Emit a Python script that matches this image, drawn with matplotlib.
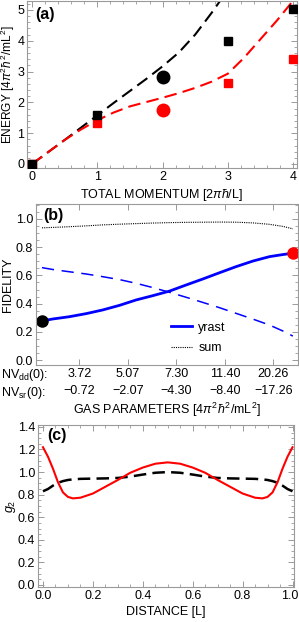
import matplotlib
matplotlib.use("Agg")
import matplotlib.pyplot as plt
from matplotlib.ticker import MultipleLocator, FixedLocator
from matplotlib.lines import Line2D
from matplotlib.transforms import ScaledTranslation

plt.rcParams["font.family"] = ["Liberation Sans", "DejaVu Sans"]
plt.rcParams["mathtext.fontset"] = "custom"
plt.rcParams["mathtext.rm"] = "Liberation Sans"
plt.rcParams["mathtext.it"] = "Liberation Sans:italic"
plt.rcParams["mathtext.bf"] = "Liberation Sans:bold"
plt.rcParams["font.size"] = 9

# ---- panel (a): energy vs total momentum ----
black_sq_x = [0, 1, 3, 4]
black_sq_e = [0.0, 1.6, 4.0, 5.02]
red_sq_x = [0, 1, 3, 4]
red_sq_e = [0.0, 1.32, 2.62, 3.4]
black_circ = (2, 2.82)
red_circ = (2, 1.76)

black_curve_x = [0, 0.25, 0.5, 0.75, 1.0, 1.25, 1.5, 1.75, 2.0, 2.25, 2.5, 2.75, 3.0]
black_curve_e = [0, 0.39, 0.78, 1.18, 1.58, 1.98, 2.37, 2.76, 3.17, 3.62, 4.2, 4.9, 5.65]
red_curve_x = [0, 0.25, 0.5, 0.75, 1.0, 1.25, 1.5, 1.75, 2.0, 2.25, 2.5, 2.75, 3.0,
               3.25, 3.5, 3.75, 4.0]
red_curve_e = [0, 0.39, 0.78, 1.12, 1.42, 1.67, 1.87, 2.01, 2.15, 2.3, 2.47, 2.67,
               2.93, 3.45, 4.05, 4.65, 5.3]

# ---- panel (b): fidelity vs gas parameters ----
gas_u = [0.23, 0.45, 0.79, 1.14, 1.48, 1.83, 2.17, 2.51, 2.86, 3.2, 3.54, 3.89,
         4.23, 4.58, 4.92, 5.2, 5.40]
fid_yrast = [0.277, 0.291, 0.307, 0.329, 0.355, 0.388, 0.426, 0.456, 0.489, 0.532,
             0.574, 0.619, 0.662, 0.702, 0.733, 0.748, 0.757]
fid_other = [0.655, 0.642, 0.626, 0.61, 0.591, 0.57, 0.544, 0.514, 0.48, 0.445,
             0.409, 0.371, 0.331, 0.29, 0.248, 0.205, 0.17]
fid_sum = [0.937, 0.94, 0.945, 0.951, 0.958, 0.963, 0.967, 0.971, 0.974, 0.976,
           0.977, 0.978, 0.977, 0.972, 0.962, 0.947, 0.930]
nv_dd = ["3.72", "5.07", "7.30", "11.40", "20.26"]
nv_sr = ["\u22120.72", "\u22122.07", "\u22124.30", "\u22128.40", "\u221217.26"]

# ---- panel (c): g2 vs distance ----
dist = [0.0, 0.02, 0.04, 0.06, 0.08, 0.10, 0.12, 0.15, 0.2, 0.25, 0.3, 0.35, 0.4,
        0.45, 0.5, 0.55, 0.6, 0.65, 0.7, 0.75, 0.8, 0.85, 0.88, 0.9, 0.92, 0.94,
        0.96, 0.98, 1.0]
g2_red = [1.22, 1.136, 1.03, 0.91, 0.82, 0.78, 0.767, 0.773, 0.81, 0.87, 0.93, 0.994,
          1.04, 1.074, 1.086, 1.074, 1.04, 0.994, 0.93, 0.87, 0.81, 0.773, 0.767,
          0.78, 0.82, 0.91, 1.03, 1.136, 1.22]
g2_black = [0.83, 0.85, 0.88, 0.905, 0.92, 0.93, 0.935, 0.94, 0.942, 0.944, 0.948,
            0.96, 0.978, 0.994, 1.0, 0.994, 0.978, 0.96, 0.948, 0.944, 0.942, 0.94,
            0.935, 0.93, 0.92, 0.905, 0.88, 0.85, 0.83]

FRAME = "#9a9a9a"


def style_axes(ax):
    for s in ax.spines.values():
        s.set_color(FRAME)
        s.set_linewidth(0.8)
    ax.tick_params(which="both", direction="in", top=True, right=True,
                   color=FRAME, labelsize=9, pad=2)
    ax.tick_params(which="major", length=4, width=0.7)
    ax.tick_params(which="minor", length=2, width=0.6)


fig = plt.figure(figsize=(2.99, 6.22), dpi=100)

# (a)
ax = fig.add_axes([27 / 299, 1 - 168 / 622, 270 / 299, 167 / 622])
style_axes(ax)
ax.plot(black_curve_x, black_curve_e, color="black", lw=1.5, dashes=(6, 3), zorder=2)
ax.plot(red_curve_x, red_curve_e, color="red", lw=1.5, dashes=(6, 3), zorder=2)
ax.plot(red_sq_x, red_sq_e, "s", color="red", ms=5.5, zorder=3)
ax.plot(black_sq_x, black_sq_e, "s", color="black", ms=5.5, zorder=4)
ax.plot(*black_circ, "o", color="black", ms=9, zorder=4)
ax.plot(*red_circ, "o", color="red", ms=9, zorder=4)
ax.set_xlim(-0.077, 4.06)
ax.set_ylim(-0.13, 5.29)
ax.xaxis.set_major_locator(MultipleLocator(1))
ax.xaxis.set_minor_locator(MultipleLocator(0.2))
ax.yaxis.set_major_locator(MultipleLocator(1))
ax.yaxis.set_minor_locator(MultipleLocator(0.2))
ax.set_xlabel("TOTAL MOMENTUM [2$\\pi\\hbar$/L]", labelpad=3)
ax.set_ylabel("ENERGY [4$\\pi^2\\hbar^2$/mL$^2$]", fontsize=8.6, va="center")
ax.yaxis.set_label_coords(-0.07, 0.5)
ax.text(0.03, 0.917, "(a)", transform=ax.transAxes, fontsize=11.5,
        fontweight="bold", va="center", ha="left")

# (b)
ax = fig.add_axes([36 / 299, 1 - 365 / 622, 262 / 299, 161 / 622])
style_axes(ax)
ax.plot(gas_u, fid_other, color="blue", lw=1.1, dashes=(8, 5))
ax.plot(gas_u, fid_sum, color="black", lw=0.8, ls=(0, (1, 1)))
ax.plot(gas_u, fid_yrast, color="blue", lw=2)
ax.plot(gas_u[0], fid_yrast[0], "o", color="black", ms=8)
ax.plot(gas_u[-1], fid_yrast[-1], "o", color="red", ms=8)
ax.set_xlim(0.107, 5.506)
ax.set_ylim(-0.035, 1.106)
ax.xaxis.set_major_locator(FixedLocator([1, 2, 3, 4, 5]))
ax.set_xticklabels([f"{d}\n{s}" for d, s in zip(nv_dd, nv_sr)], linespacing=1.55)
ax.yaxis.set_major_locator(MultipleLocator(0.2))
ax.yaxis.set_minor_locator(MultipleLocator(0.05))
ax.yaxis.set_major_formatter(plt.FormatStrFormatter("%.1f"))
ax.set_xlabel("GAS PARAMETERS [4$\\pi^2\\hbar^2$/mL$^2$]", labelpad=3)
ax.set_ylabel("FIDELITY", va="center")
ax.yaxis.set_label_coords(-(36 - 8) / 262, 0.5)
ax.text(0.027, 0.93, "(b)", transform=ax.transAxes, fontsize=11.5,
        fontweight="bold", va="center", ha="left")
handles = [Line2D([], [], color="blue", lw=2),
           Line2D([], [], color="black", lw=0.8, ls=(0, (1, 1)))]
ax.legend(handles, ["yrast", "sum"], loc="upper left", bbox_to_anchor=(0.515, 0.27),
          frameon=False, borderpad=0, borderaxespad=0, handlelength=1.7,
          handletextpad=0.5, labelspacing=0.7, fontsize=9)
fig.text(1 / 299, 1 - 375 / 622, "NV$_{\\rm dd}$(0):", va="center", ha="left", fontsize=9)
fig.text(1 / 299, 1 - 393 / 622, "NV$_{\\rm sr}$(0):", va="center", ha="left", fontsize=9)

# (c)
ax = fig.add_axes([38 / 299, 1 - 587 / 622, 256 / 299, 162 / 622])
style_axes(ax)
ax.plot(dist, g2_black, color="black", lw=1.8, dashes=(5, 2.5))
ax.plot(dist, g2_red, color="red", lw=1.5)
ax.set_xlim(-0.02, 1.006)
ax.set_ylim(-0.018, 1.417)
ax.xaxis.set_major_locator(FixedLocator([0.0, 0.2, 0.4, 0.6, 0.8, 1.0]))
ax.xaxis.set_minor_locator(MultipleLocator(0.05))
ax.yaxis.set_major_locator(MultipleLocator(0.2))
ax.yaxis.set_minor_locator(MultipleLocator(0.05))
ax.xaxis.set_major_formatter(plt.FormatStrFormatter("%.1f"))
ax.yaxis.set_major_formatter(plt.FormatStrFormatter("%.1f"))
ax.set_xlabel("DISTANCE [L]", labelpad=3)
ax.set_ylabel("$g_2$", va="center")
ax.yaxis.set_label_coords(-(38 - 11) / 256, 0.5)
ax.text(0.035, 0.938, "(c)", transform=ax.transAxes, fontsize=11.5,
        fontweight="bold", va="center", ha="left")

# nudge the last x tick label of (c) so it stays inside the figure
fig.canvas.draw()
last = ax.xaxis.get_major_ticks()[-1].label1
last.set_transform(last.get_transform() + ScaledTranslation(-3 / 100, 0, fig.dpi_scale_trans))

fig.savefig("out.png", dpi=100)
